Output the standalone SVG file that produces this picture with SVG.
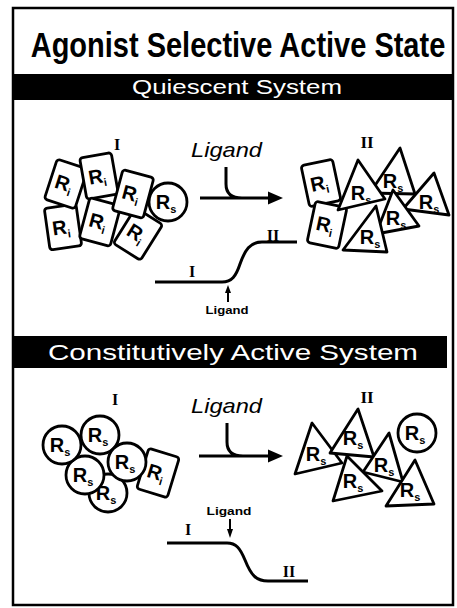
<svg xmlns="http://www.w3.org/2000/svg" xmlns:xlink="http://www.w3.org/1999/xlink" width="457" height="608" viewBox="0 0 457 608">
<style>
.shape{fill:#fff;stroke:#000;stroke-width:2.8;stroke-linejoin:round}
.R{font-family:"Liberation Sans",Arial,sans-serif;font-weight:bold;font-size:20px;fill:#000;text-anchor:middle}
.sub{font-size:11px}
.rn{font-family:"Liberation Serif","Times New Roman",serif;font-weight:bold;fill:#000;text-anchor:middle}
.lig{font-family:"Liberation Sans",Arial,sans-serif;font-style:italic;font-size:21px;fill:#000}
.sl{font-family:"Liberation Sans",Arial,sans-serif;font-weight:bold;font-size:11px;fill:#000;text-anchor:middle}
.line{fill:none;stroke:#000;stroke-width:3;stroke-linecap:butt}
.bar{fill:#000}
.bt{font-family:"Liberation Sans",Arial,sans-serif;fill:#fff;text-anchor:middle}
</style>
<defs>
<rect id="rc" x="-16" y="-21" width="32" height="42" rx="3" class="shape"/>
<circle id="cc" r="19" class="shape"/>
</defs>
<rect x="13" y="8" width="440" height="597" fill="#fff" stroke="#000" stroke-width="2.5"/>
<text transform="translate(238,57) scale(1,1.2)" style="font-family:'Liberation Sans',Arial,sans-serif;font-weight:bold;font-size:29px;text-anchor:middle">Agonist Selective Active State</text>
<g id="bar1"><rect class="bar" x="13" y="74" width="441" height="26"/><text class="bt" x="237" y="94" font-size="20" textLength="210" lengthAdjust="spacingAndGlyphs">Quiescent System</text></g>
<g id="bar2"><rect class="bar" x="13" y="336" width="434" height="32"/><text class="bt" x="233" y="360" font-size="22" textLength="370" lengthAdjust="spacingAndGlyphs">Constitutively Active System</text></g>

<!-- Quiescent cluster I -->
<text class="rn" x="117" y="150" font-size="16">I</text>
<g id="q5" transform="translate(63,227) rotate(-8)"><use xlink:href="#rc"/><text class="R" x="-2" y="7">R<tspan class="sub" dy="4">i</tspan></text></g>
<g id="q1" transform="translate(66,184) rotate(18)"><use xlink:href="#rc"/><text class="R" x="-2" y="7">R<tspan class="sub" dy="4">i</tspan></text></g>
<g id="q2" transform="translate(99,176) rotate(-10)"><use xlink:href="#rc"/><text class="R" x="-2" y="7">R<tspan class="sub" dy="4">i</tspan></text></g>
<g id="q6" transform="translate(100,222) rotate(15)"><use xlink:href="#rc"/><text class="R" x="-2" y="7">R<tspan class="sub" dy="4">i</tspan></text></g>
<g id="q7" transform="translate(138,234) rotate(32)"><use xlink:href="#rc"/><text class="R" x="-2" y="7">R<tspan class="sub" dy="4">i</tspan></text></g>
<g id="q3" transform="translate(133,194) rotate(15)"><use xlink:href="#rc"/><text class="R" x="-2" y="7">R<tspan class="sub" dy="4">i</tspan></text></g>
<g id="q4" transform="translate(168,202)"><use xlink:href="#cc"/><text class="R" x="-2" y="7">R<tspan class="sub" dy="4">s</tspan></text></g>

<!-- Quiescent cluster II -->
<text class="rn" x="367" y="148" font-size="17">II</text>
<g id="q8" transform="translate(321,183) rotate(-12)"><use xlink:href="#rc"/><text class="R" x="-2" y="7">R<tspan class="sub" dy="4">i</tspan></text></g>
<g id="q9" transform="translate(327,225) rotate(12)"><use xlink:href="#rc"/><text class="R" x="-2" y="7">R<tspan class="sub" dy="4">i</tspan></text></g>
<g id="q10"><polygon class="shape" points="400,148 370,193 415,194"/><text class="R" x="393" y="188" font-size="18">R<tspan class="sub" dy="4">s</tspan></text></g>
<g id="q11"><polygon class="shape" points="434,173 403,209 449,215"/><text class="R" x="429" y="209" font-size="18">R<tspan class="sub" dy="4">s</tspan></text></g>
<g id="q12"><polygon class="shape" points="358,160 338,210 385,199"/><text class="R" x="361" y="200" font-size="18">R<tspan class="sub" dy="4">s</tspan></text></g>
<g id="q13"><polygon class="shape" points="393,190 376,234 419,226"/><text class="R" x="396" y="225" font-size="18">R<tspan class="sub" dy="4">s</tspan></text></g>
<g id="q14"><polygon class="shape" points="376,206 343,250 387,252"/><text class="R" x="370" y="244" font-size="18">R<tspan class="sub" dy="4">s</tspan></text></g>

<!-- Constitutive cluster I -->
<text class="rn" x="115" y="405" font-size="16">I</text>
<g id="c6" transform="translate(158,473) rotate(17)"><use xlink:href="#rc"/><text class="R" x="-2" y="7">R<tspan class="sub" dy="4">i</tspan></text></g>
<g id="c5"><use xlink:href="#cc" x="108" y="493"/><text class="R" x="106" y="500">R<tspan class="sub" dy="4">s</tspan></text></g>
<g id="c3"><use xlink:href="#cc" x="85" y="475"/><text class="R" x="83" y="482">R<tspan class="sub" dy="4">s</tspan></text></g>
<g id="c1"><use xlink:href="#cc" x="62" y="445"/><text class="R" x="60" y="452">R<tspan class="sub" dy="4">s</tspan></text></g>
<g id="c2"><use xlink:href="#cc" x="100" y="435"/><text class="R" x="98" y="442">R<tspan class="sub" dy="4">s</tspan></text></g>
<g id="c4"><use xlink:href="#cc" x="127" y="462"/><text class="R" x="125" y="469">R<tspan class="sub" dy="4">s</tspan></text></g>

<!-- Constitutive cluster II -->
<text class="rn" x="367" y="403" font-size="17">II</text>
<g id="c7"><polygon class="shape" points="312,423 295,474 342,463"/><text class="R" x="316" y="461" font-size="18">R<tspan class="sub" dy="4">s</tspan></text></g>
<g id="c8"><polygon class="shape" points="358,409 330,453 374,457"/><text class="R" x="353" y="445" font-size="18">R<tspan class="sub" dy="4">s</tspan></text></g>
<g id="c9"><polygon class="shape" points="389,433 363,472 403,482"/><text class="R" x="384" y="472" font-size="18">R<tspan class="sub" dy="4">s</tspan></text></g>
<g id="c10"><polygon class="shape" points="347,456 333,501 382,491"/><text class="R" x="353" y="488" font-size="18">R<tspan class="sub" dy="4">s</tspan></text></g>
<g id="c11"><polygon class="shape" points="415,460 386,506 434,504"/><text class="R" x="410" y="497" font-size="18">R<tspan class="sub" dy="4">s</tspan></text></g>
<g id="c12"><use xlink:href="#cc" x="417" y="433"/><text class="R" x="415" y="440">R<tspan class="sub" dy="4">s</tspan></text></g>

<!-- connectors -->
<g id="connectors">
<text class="lig" x="191" y="157" textLength="71" lengthAdjust="spacingAndGlyphs">Ligand</text>
<path class="line" d="M200,198 H272 M226,167 V184 Q226,198 242,198"/>
<polygon points="268,191.5 283,198 268,204.5" fill="#000"/>
<text class="lig" x="191" y="413" textLength="71" lengthAdjust="spacingAndGlyphs">Ligand</text>
<path class="line" d="M199,456 H272 M227,423 V442 Q227,456 243,456"/>
<polygon points="268,449.5 283,456 268,462.5" fill="#000"/>

<path class="line" d="M155,282 H222 C232,282 236,276 240,264 C245,250 250,242 262,242 H297"/>
<text class="rn" x="192" y="277" font-size="16">I</text>
<text class="rn" x="273" y="241" font-size="16">II</text>
<path d="M228,302 V292" stroke="#000" stroke-width="2"/><polygon points="225,293 228,285 231,293" fill="#000"/>
<text class="sl" x="227" y="314" textLength="43" lengthAdjust="spacingAndGlyphs">Ligand</text>

<path class="line" d="M167,543 H227 C236,543 240,548 245,560 C251,575 256,581 268,581 H308"/>
<text class="rn" x="188" y="535" font-size="16">I</text>
<text class="rn" x="289" y="577" font-size="16">II</text>
<path d="M230,519 V530" stroke="#000" stroke-width="2"/><polygon points="227,529 230,538 233,529" fill="#000"/>
<text class="sl" x="229" y="515" textLength="45" lengthAdjust="spacingAndGlyphs">Ligand</text>
</g>
</svg>
